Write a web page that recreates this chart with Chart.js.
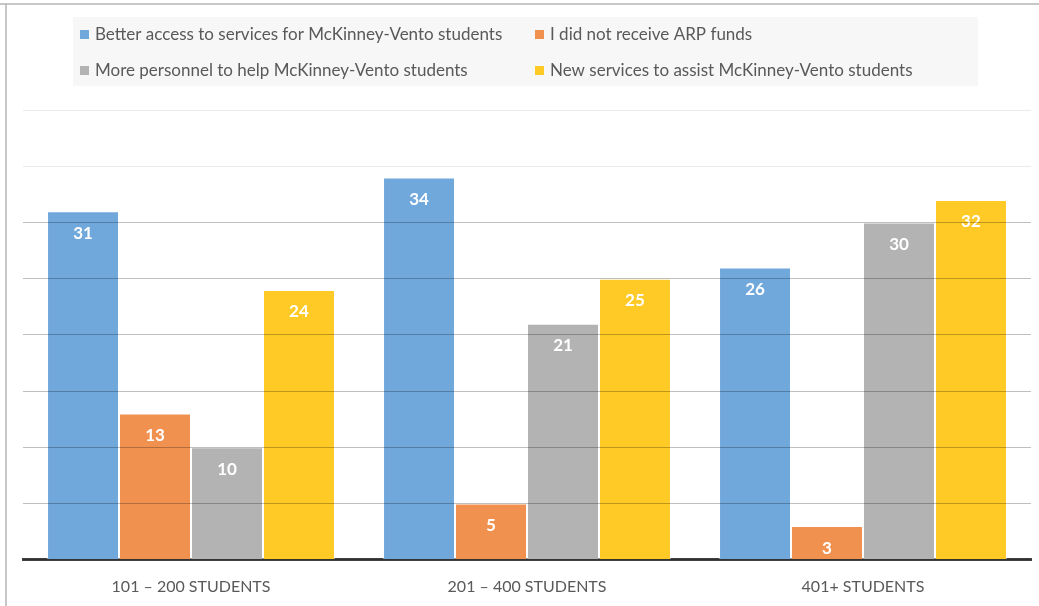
<!DOCTYPE html>
<html>
<head>
<meta charset="utf-8">
<script src="https://cdn.jsdelivr.net/npm/chart.js@4.4.1/dist/chart.umd.min.js"></script>
<style>
  html, body { margin: 0; padding: 0; background: #fff; }
  #wrap { width: 1039px; height: 606px; position: relative; }
</style>
</head>
<body>
<div id="wrap"><canvas id="graphe"></canvas></div>
<script>
document.addEventListener('DOMContentLoaded', function () {

	'use strict';

	const categories = ['101 – 200 STUDENTS', '201 – 400 STUDENTS', '401+ STUDENTS'];
	const seriesNames = [
		'Better access to services for McKinney-Vento students',
		'I did not receive ARP funds',
		'More personnel to help McKinney-Vento students',
		'New services to assist McKinney-Vento students'
	];
	const betterAccess = [31, 34, 26];
	const noArpFunds = [13, 5, 3];
	const morePersonnel = [10, 21, 30];
	const newServices = [24, 25, 32];
	const colors = ['#71a8dc', '#f09150', '#b3b3b3', '#ffc926'];

	// frame lines on top and left
	const cadre = {
		id: 'cadre',
		beforeDraw(chart) {
			const ctx = chart.ctx;
			ctx.save();
			ctx.fillStyle = '#ffffff';
			ctx.fillRect(0, 0, chart.width, chart.height);
			ctx.strokeStyle = '#b5b5b5';
			ctx.lineWidth = 1.5;
			ctx.beginPath();
			ctx.moveTo(0, 4);
			ctx.lineTo(chart.width, 4);
			ctx.moveTo(6, 4);
			ctx.lineTo(6, chart.height);
			ctx.stroke();
			ctx.restore();
		}
	};

	// legend laid out as a 2x2 grid in a grey box
	const legende = {
		id: 'legende',
		afterDraw(chart) {
			const ctx = chart.ctx;
			ctx.save();
			ctx.fillStyle = '#f7f7f7';
			ctx.fillRect(73, 17, 905, 69);
			ctx.font = '17px Lato';
			ctx.textBaseline = 'middle';
			const cols = [80, 535];
			const rows = [35, 71];
			seriesNames.forEach(function (name, i) {
				const x = cols[i % 2];
				const y = rows[Math.floor(i / 2)];
				ctx.fillStyle = colors[i];
				ctx.fillRect(x, y - 5, 9, 9);
				ctx.fillStyle = '#595959';
				ctx.fillText(name, x + 15, y);
			});
			ctx.restore();
		}
	};

	// white value labels inside the top of each bar
	const valeurs = {
		id: 'valeurs',
		afterDatasetsDraw(chart) {
			const ctx = chart.ctx;
			ctx.save();
			ctx.font = 'bold 17px Lato';
			ctx.fillStyle = '#ffffff';
			ctx.textAlign = 'center';
			ctx.textBaseline = 'middle';
			chart.data.datasets.forEach(function (ds, i) {
				chart.getDatasetMeta(i).data.forEach(function (bar, j) {
					ctx.fillText(ds.data[j], bar.x, bar.y + 22);
				});
			});
			ctx.restore();
		}
	};

	const series = [betterAccess, noArpFunds, morePersonnel, newServices];

	new Chart(document.getElementById('graphe'), {
		type: 'bar',
		data: {
			labels: categories,
			datasets: series.map(function (values, i) {
				return {
					label: seriesNames[i],
					data: values,
					backgroundColor: colors[i],
					borderColor: 'rgba(255,255,255,0.45)',
					borderWidth: 1,
					barPercentage: 1.0,
					categoryPercentage: 0.857
				};
			})
		},
		options: {
			responsive: true,
			maintainAspectRatio: false,
			animation: false,
			layout: {
				padding: { left: 23, right: 8, top: 110, bottom: -7 }
			},
			plugins: {
				legend: { display: false },
				tooltip: { enabled: false }
			},
			scales: {
				x: {
					grid: { display: false, drawTicks: false },
					border: { color: '#404040', width: 3 },
					ticks: {
						color: '#595959',
						font: { family: 'Lato', size: 16 },
						padding: 17
					}
				},
				y: {
					min: 0,
					max: 40,
					ticks: { display: false, stepSize: 5 },
					border: { display: false },
					grid: {
						z: 1,
						drawTicks: false,
						color: function (c) {
							return c.tick.value > 30 ? '#ebebeb' : 'rgba(0,0,0,0.25)';
						}
					}
				}
			}
		},
		plugins: [cadre, legende, valeurs]
	});
});
</script>
</body>
</html>
